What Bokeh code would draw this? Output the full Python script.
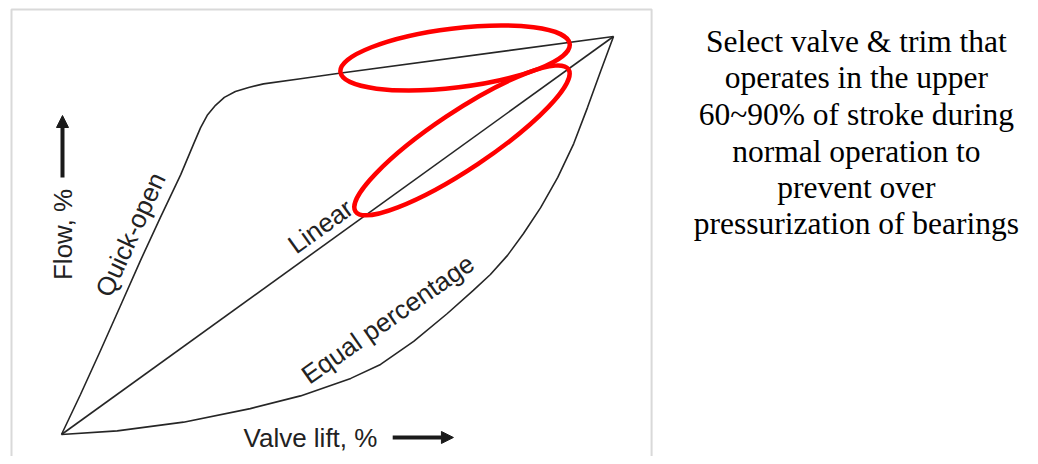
from bokeh.plotting import figure
from bokeh.models import Range1d, Arrow, NormalHead
from bokeh.core.properties import value
from bokeh.embed import file_html
from bokeh.resources import INLINE
import math

# ---- data (valve lift % vs flow %) ----
quick_x = [0, 3.44, 7.07, 10.7, 14.3, 17.9, 21.6, 23.9, 25.2, 26.4, 27.9, 29.5, 31.5, 33.9, 36.6, 43.3, 50.0, 100]
quick_y = [0, 10.05, 21.1, 32.4, 43.7, 54.5, 65.3, 72.9, 77.1, 80.2, 82.7, 84.7, 86.2, 87.2, 88.1, 89.4, 90.7, 100]

linear_x = [0, 100]
linear_y = [0, 100]

eqp_x = [0, 10.1, 22.1, 34.2, 43.3, 52.4, 57.8, 63.8, 69.9, 74.6, 77.7, 80.8, 83.7, 86.8, 89.9, 92.8, 95.3, 97.6, 100]
eqp_y = [0, 0.9, 3.1, 6.5, 9.7, 14.1, 17.6, 23.4, 30.4, 36.2, 40.2, 45.0, 50.5, 57.0, 64.6, 73.1, 82.2, 91.0, 100]

curve_labels = ["Quick-open", "Linear", "Equal percentage"]
label_x = [12.5, 46.9, 59.1]
label_y = [50.25, 52.3, 29.0]
label_angle_deg = [65.5, 35.8, 35.0]

note_lines = [
    "Select valve & trim that",
    "operates in the upper",
    "60~90% of stroke during",
    "normal operation to",
    "prevent over",
    "pressurization of bearings",
]
note_x = [144.0] * 6
note_y = [98.82, 89.62, 80.40, 71.18, 61.98, 52.94]

# highlight ellipses (centre in data units, size in screen px)
ell_x = [71.3, 72.55]
ell_y = [94.6, 73.9]
ell_w = [231, 256]
ell_h = [59, 57]
ell_angle_deg = [7.0, 33.7]

p = figure(width=1030, height=456, output_backend="svg", toolbar_location=None,
           x_range=Range1d(-11.051, 175.543), y_range=Range1d(-5.528, 109.045),
           min_border=0, outline_line_color=None)
p.xaxis.visible = False
p.yaxis.visible = False
p.grid.visible = False
p.background_fill_color = "white"
p.border_fill_color = "white"

# light gray frame around the chart image
p.line([-9.06, -9.06, 106.9, 106.9], [-9.0, 106.8, 106.8, -9.0], line_color="#d9d9d9", line_width=2)

curve_color = "#262626"
p.line(quick_x, quick_y, line_color=curve_color, line_width=1.6)
p.line(linear_x, linear_y, line_color=curve_color, line_width=1.6)
p.line(eqp_x, eqp_y, line_color=curve_color, line_width=1.6)

p.text(x=label_x, y=label_y, text=curve_labels,
       angle=[math.radians(a) for a in label_angle_deg],
       text_font=value("Liberation Sans"), text_font_size=value("26px"),
       text_color="#222222", text_align="center", text_baseline="middle")

# axis titles
p.text(x=[45.1], y=[-0.9], text=["Valve lift, %"],
       text_font=value("Liberation Sans"), text_font_size=value("26px"),
       text_color="#222222", text_align="center", text_baseline="middle")
p.text(x=[0.36], y=[50.25], text=["Flow, %"], angle=[math.pi / 2],
       text_font=value("Liberation Sans"), text_font_size=value("26px"),
       text_color="#222222", text_align="center", text_baseline="middle")

p.add_layout(Arrow(end=NormalHead(size=12, fill_color="#1a1a1a", line_color="#1a1a1a"),
                   x_start=0.18, y_start=64.6, x_end=0.18, y_end=80.15,
                   line_color="#1a1a1a", line_width=4))
p.add_layout(Arrow(end=NormalHead(size=12, fill_color="#1a1a1a", line_color="#1a1a1a"),
                   x_start=60.0, y_start=-0.75, x_end=71.0, y_end=-0.75,
                   line_color="#1a1a1a", line_width=4))

# red highlight ellipses
p.ellipse(x=ell_x, y=ell_y, width=ell_w, height=ell_h,
          angle=[math.radians(a) for a in ell_angle_deg],
          width_units="screen", height_units="screen",
          fill_color=None, line_color="#ff0000", line_width=4.5)

# note text on the right
p.text(x=note_x, y=note_y, text=note_lines,
       text_font=value("Liberation Serif"), text_font_size=value("31.5px"),
       text_color="black", text_align="center", text_baseline="middle")

open("out.html", "w").write(file_html(p, INLINE))
